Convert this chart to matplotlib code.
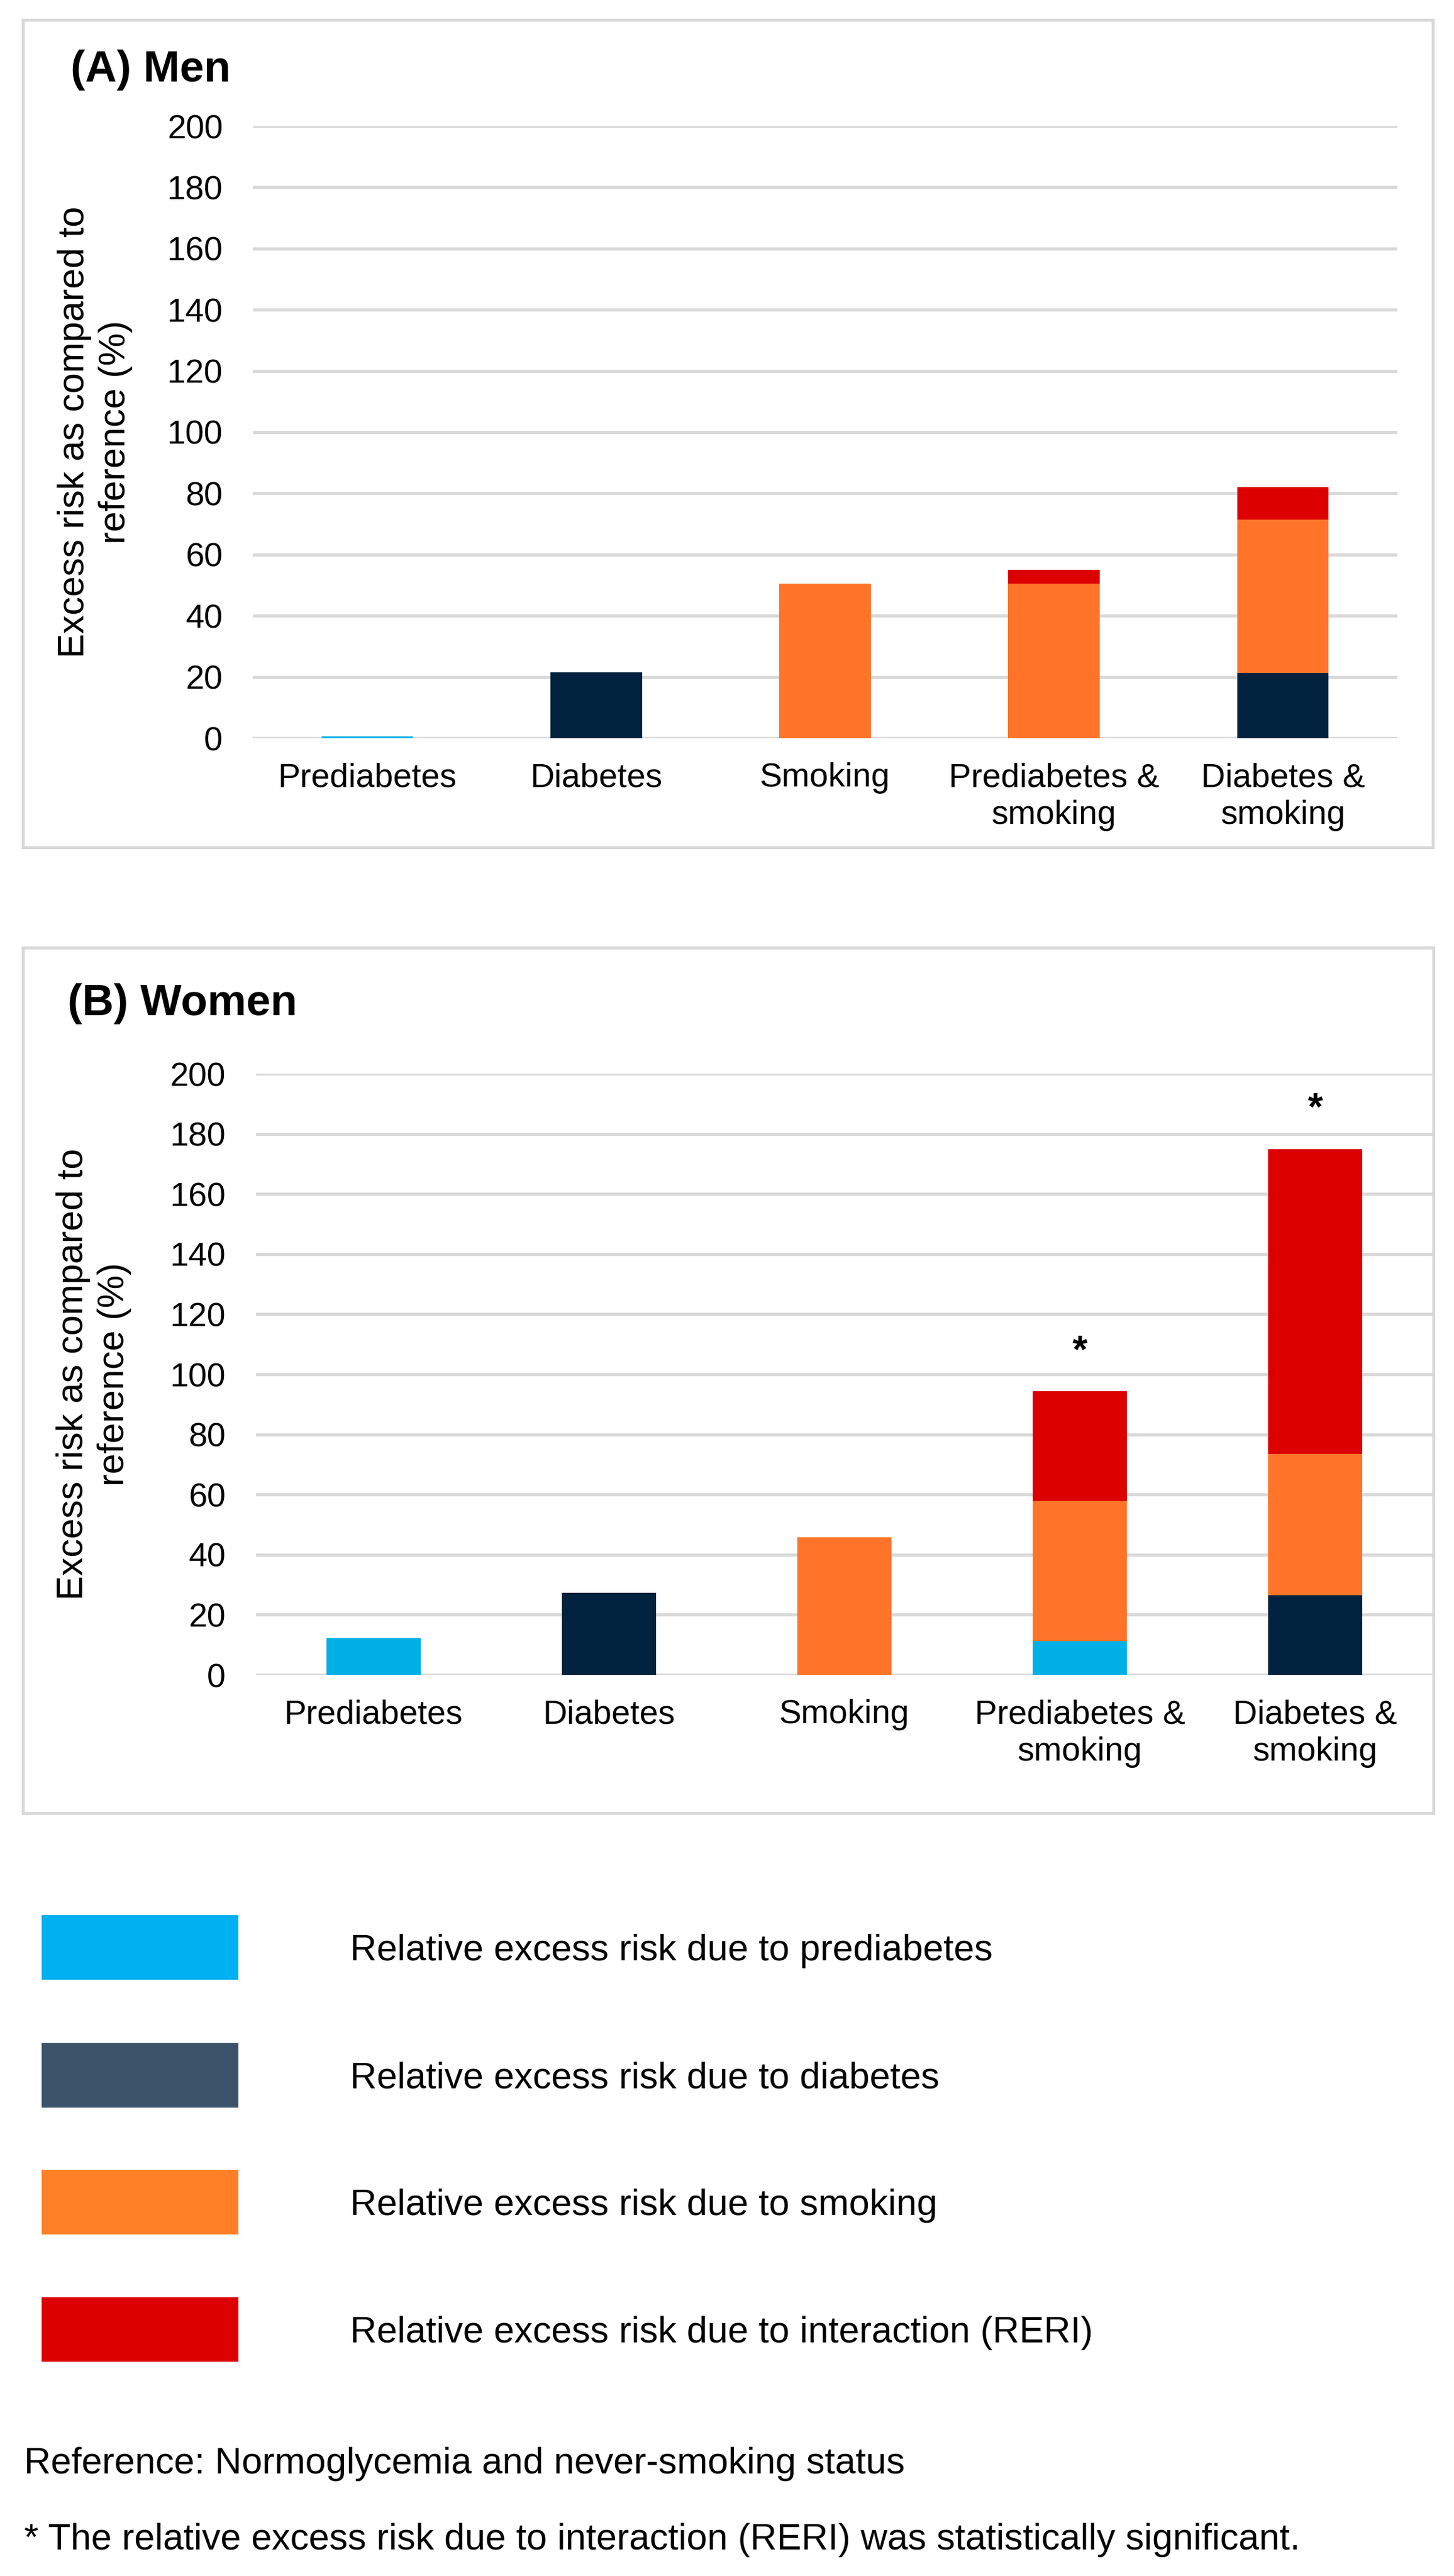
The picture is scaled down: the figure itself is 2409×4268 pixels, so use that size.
import matplotlib
matplotlib.use("Agg")
import matplotlib.pyplot as plt
from matplotlib.patches import Rectangle
import numpy as np

plt.rcParams['font.family'] = ['Liberation Sans', 'DejaVu Sans']

W, H = 2409, 4268

categories = ["Prediabetes", "Diabetes", "Smoking", "Prediabetes &\nsmoking", "Diabetes &\nsmoking"]

# men, excess risk components (%)
men_prediabetes = [0.6, 0, 0, 0, 0]
men_diabetes = [0, 21.5, 0, 0, 21.3]
men_smoking = [0, 0, 50.5, 50.4, 50.1]
men_reri = [0, 0, 0, 4.7, 10.6]
men_sig = [False, False, False, False, False]

# women
women_prediabetes = [12.2, 0, 0, 11.3, 0]
women_diabetes = [0, 27.3, 0, 0, 26.5]
women_smoking = [0, 0, 45.8, 46.6, 46.9]
women_reri = [0, 0, 0, 36.4, 101.5]
women_sig = [False, False, False, True, True]

yticks = list(range(0, 201, 20))

legend_labels = ["Relative excess risk due to prediabetes",
                 "Relative excess risk due to diabetes",
                 "Relative excess risk due to smoking",
                 "Relative excess risk due to interaction (RERI)"]

bar_colors = ["#00B0E6", "#00223E", "#FF7429", "#DC0000"]
legend_colors = ["#00B0F0", "#3B5268", "#FF7F27", "#DC0000"]
grid_col = "#D9D9D9"


def px_axes(x0, y0, x1, y1):
    # pixel box (top-left origin) -> figure fraction
    return [x0 / W, 1 - y1 / H, (x1 - x0) / W, (y1 - y0) / H]


def draw_panel(ax, pre, dia, smk, reri, sig):
    x = np.arange(len(categories))
    bottom = np.zeros(len(categories))
    for vals, col in zip([pre, dia, smk, reri], bar_colors):
        vals = np.array(vals, dtype=float)
        ax.bar(x, vals, width=0.4, bottom=bottom, color=col, zorder=3)
        bottom += vals
    for xi, top, s in zip(x, bottom, sig):
        if s:
            ax.annotate("*", (xi, top), xytext=(0, 25), textcoords="offset points",
                        ha="center", va="bottom", fontsize=46, fontweight="bold")
    ax.set_xlim(-0.5, len(categories) - 0.5)
    ax.set_ylim(0, 200)
    ax.set_yticks(yticks)
    ax.set_xticks(x)
    ax.set_xticklabels(categories, fontsize=40, linespacing=1.25)
    ax.tick_params(axis="y", labelsize=40, length=0, pad=36)
    ax.tick_params(axis="x", length=0, pad=29)
    ax.yaxis.grid(True, color=grid_col, linewidth=3.8)
    ax.set_axisbelow(True)
    for sp in ax.spines.values():
        sp.set_visible(False)


fig = plt.figure(figsize=(W / 100, H / 100), dpi=100)

# overlay in pixel coordinates for boxes and legend
over = fig.add_axes([0, 0, 1, 1], zorder=0)
over.set_xlim(0, W)
over.set_ylim(H, 0)
over.axis("off")
over.add_patch(Rectangle((38, 33), 2336, 1371, fill=False, edgecolor=grid_col, linewidth=3.6))
over.add_patch(Rectangle((38, 1570), 2337, 1434, fill=False, edgecolor=grid_col, linewidth=3.6))

ax_a = fig.add_axes(px_axes(419, 209, 2315, 1223), zorder=1)
ax_a.patch.set_alpha(0)
draw_panel(ax_a, men_prediabetes, men_diabetes, men_smoking, men_reri, men_sig)

ax_b = fig.add_axes(px_axes(424, 1779, 2374, 2775), zorder=1)
ax_b.patch.set_alpha(0)
draw_panel(ax_b, women_prediabetes, women_diabetes, women_smoking, women_reri, women_sig)

over.text(117, 116, "(A) Men", fontsize=52, fontweight="bold", ha="left", va="center")
over.text(112, 1663, "(B) Women", fontsize=52, fontweight="bold", ha="left", va="center")

ylab = "Excess risk as compared to\nreference (%)"
over.text(158, 716, ylab, fontsize=44, rotation=90, ha="center", va="center",
          multialignment="center", linespacing=1.25)
over.text(156, 2277, ylab, fontsize=44, rotation=90, ha="center", va="center",
          multialignment="center", linespacing=1.25)

# legend
leg_top = [3173, 3385, 3595, 3806]
for top, col, lab in zip(leg_top, legend_colors, legend_labels):
    over.add_patch(Rectangle((69, top), 326, 107, facecolor=col, edgecolor="none"))
    over.text(580, top + 53 + 22, lab, fontsize=44, ha="left", va="baseline")

over.text(40, 4098, "Reference: Normoglycemia and never-smoking status", fontsize=44,
          ha="left", va="baseline")
over.text(40, 4224, "* The relative excess risk due to interaction (RERI) was statistically significant.",
          fontsize=44, ha="left", va="baseline")

fig.savefig("out.png", dpi=100, facecolor="white")
